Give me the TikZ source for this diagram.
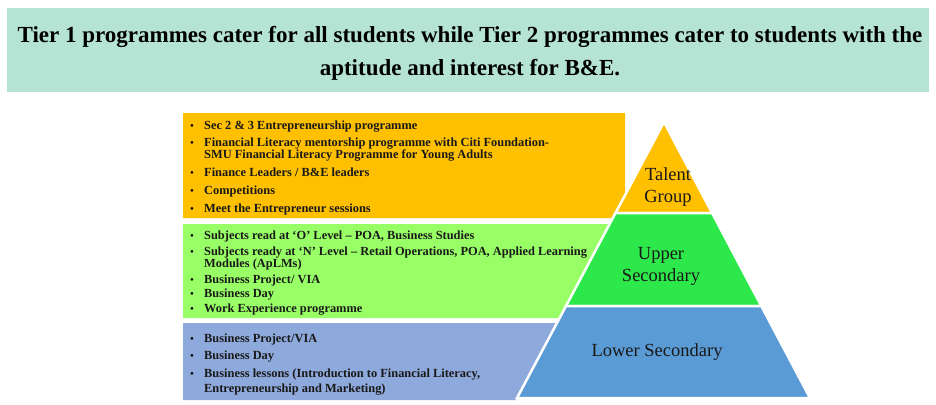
\documentclass[tikz,border=0pt]{standalone}
\usepackage{fontspec}
\setmainfont{Liberation Serif}
\definecolor{mint}{HTML}{B5E3D4}
\definecolor{tierorange}{HTML}{FFC000}
\definecolor{lightgreen}{HTML}{99FF66}
\definecolor{tiergreen}{HTML}{2DE84A}
\definecolor{tierblue}{HTML}{5B9BD5}
\definecolor{boxblue}{HTML}{8EA9DB}
\begin{document}
\begin{tikzpicture}[x=1pt,y=-1pt,
  itemtxt/.style={anchor=base west,inner sep=0pt,yshift=-4pt,font=\fontsize{12.4}{14}\selectfont\bfseries,text=black!90},
  bul/.style={anchor=base,inner sep=0pt,yshift=-4pt,font=\fontsize{11}{13}\selectfont},
  tier/.style={draw=white,line width=2.5pt,line join=miter},
  tierlabel/.style={align=center,inner sep=0pt,font=\fontsize{18.5}{22}\selectfont,text=black!90}]
\useasboundingbox (0,0) rectangle (936,404);
% title
\fill[mint] (7,8) rectangle (929,92);
\node[align=center,inner sep=0pt,font=\fontsize{23}{33}\selectfont\bfseries] (title) at (470,53)
  {Tier 1 programmes cater for all students while Tier 2 programmes cater to students with the\\aptitude and interest for B\&E.};
% boxes
\fill[tierorange] (183,113) -- (625,113) -- (625,195) -- (612,218) -- (183,218) -- cycle;
\fill[lightgreen] (183,224) -- (610,224) -- (560,318) -- (183,318) -- cycle;
\fill[boxblue] (183,323) -- (557,323) -- (516,400) -- (183,400) -- cycle;
% pyramid
\coordinate (apex) at (664,122);
\coordinate (l1) at (615.5,213); \coordinate (r1) at (712.1,213);
\coordinate (l2) at (566,306); \coordinate (r2) at (761.3,306);
\coordinate (bl) at (517,398); \coordinate (br) at (810,398);
\filldraw[tier,fill=tierorange] (apex) -- (r1) -- (l1) -- cycle;
\filldraw[tier,fill=tiergreen] (l1) -- (r1) -- (r2) -- (l2) -- cycle;
\filldraw[tier,fill=tierblue] (l2) -- (r2) -- (br) -- (bl) -- cycle;
\node[tierlabel] (talent) at (668,187) {Talent\\Group};
\node[tierlabel] (upper) at (661,266) {Upper\\Secondary};
\node[tierlabel] (lower) at (657,352) {Lower Secondary};
% orange items
\foreach \y in {125,142,172,190,208} \node[bul] at (192,\y) {\textbullet};
\node[itemtxt] (o1) at (204,125) {Sec 2 \& 3 Entrepreneurship programme};
\node[itemtxt] (o2) at (204,142) {Financial Literacy mentorship programme with Citi Foundation-};
\node[itemtxt] (o2b) at (204,154) {SMU Financial Literacy Programme for Young Adults};
\node[itemtxt] (o3) at (204,172) {Finance Leaders / B\&E leaders};
\node[itemtxt] (o4) at (204,190) {Competitions};
\node[itemtxt] (o5) at (204,208) {Meet the Entrepreneur sessions};
% green items
\foreach \y in {235,251,279,293,308} \node[bul] at (192,\y) {\textbullet};
\node[itemtxt] (g1) at (204,235) {Subjects read at ‘O’ Level – POA, Business Studies};
\node[itemtxt] (g2) at (204,251) {Subjects ready at ‘N’ Level – Retail Operations, POA, Applied Learning};
\node[itemtxt] (g2b) at (204,263) {Modules (ApLMs)};
\node[itemtxt] (g3) at (204,279) {Business Project/ VIA};
\node[itemtxt] (g4) at (204,293) {Business Day};
\node[itemtxt] (g5) at (204,308) {Work Experience programme};
% blue items
\foreach \y in {338,355,373} \node[bul] at (192,\y) {\textbullet};
\node[itemtxt] (b1) at (204,338) {Business Project/VIA};
\node[itemtxt] (b2) at (204,355) {Business Day};
\node[itemtxt] (b3) at (204,373) {Business lessons (Introduction to Financial Literacy,};
\node[itemtxt] (b3b) at (204,388) {Entrepreneurship and Marketing)};
\end{tikzpicture}
\end{document}
